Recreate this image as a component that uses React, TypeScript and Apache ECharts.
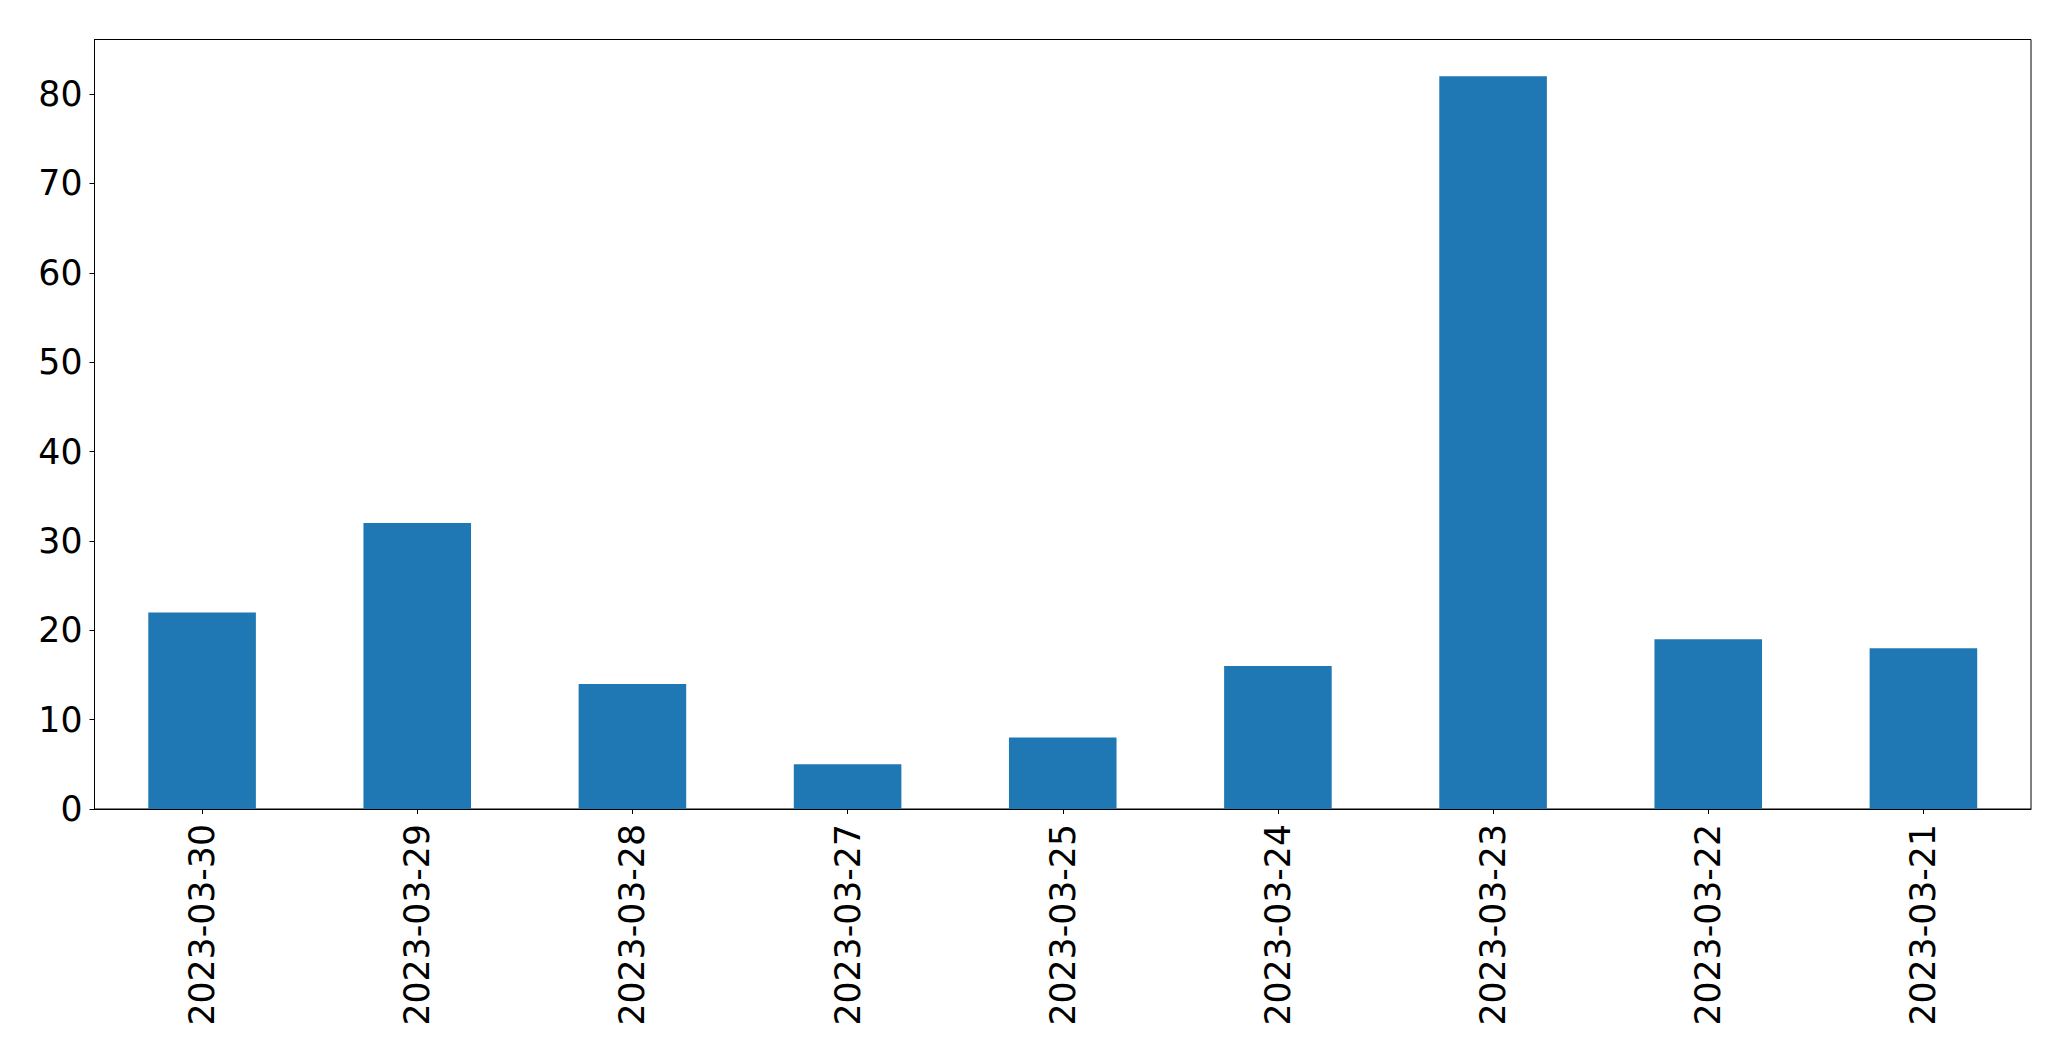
import React, { useEffect, useRef } from "react";
import * as echarts from "echarts";

const categories = [
  "2023-03-30",
  "2023-03-29",
  "2023-03-28",
  "2023-03-27",
  "2023-03-25",
  "2023-03-24",
  "2023-03-23",
  "2023-03-22",
  "2023-03-21",
];
const values = [22, 32, 14, 5, 8, 16, 82, 19, 18];
const yTicks = [0, 10, 20, 30, 40, 50, 60, 70, 80];
const yMax = 86.1;

export default function App() {
  const ref = useRef<HTMLDivElement>(null);
  useEffect(() => {
    if (!ref.current) return;
    const chart = echarts.init(ref.current, null, { renderer: "svg" });
    const font = "DejaVu Sans";
    chart.setOption({
      animation: false,
      backgroundColor: "#ffffff",
      grid: {
        left: 94.5,
        right: 40,
        top: 39.5,
        bottom: 252,
        show: true,
        borderColor: "#000000",
        borderWidth: 1,
        backgroundColor: "transparent",
      },
      xAxis: {
        type: "category",
        data: categories,
        axisLine: { show: true, lineStyle: { color: "#000", width: 1 } },
        axisTick: { show: true, alignWithLabel: true, length: 5, lineStyle: { color: "#000", width: 1 } },
        axisLabel: {
          rotate: 90,
          fontSize: 34.7,
          fontFamily: font,
          color: "#000",
          margin: 15,
          interval: 0,
        },
        splitLine: { show: false },
      },
      yAxis: {
        type: "value",
        min: 0,
        max: yMax,
        axisLine: { show: true, lineStyle: { color: "#000", width: 1 } },
        axisTick: {
          show: true,
          length: 5,
          lineStyle: { color: "#000", width: 1 },
          customValues: yTicks,
        },
        axisLabel: {
          fontSize: 34.7,
          fontFamily: font,
          color: "#000",
          margin: 12,
          customValues: yTicks,
        },
        splitLine: { show: false },
      },
      series: [
        {
          type: "bar",
          data: values,
          barWidth: "50%",
          itemStyle: { color: "#1f77b4" },
        },
      ],
    });
    return () => chart.dispose();
  }, []);
  return (
    <div
      ref={ref}
      style={{ position: "fixed", left: 0, top: 0, width: 2071, height: 1061, background: "#fff" }}
    />
  );
}
